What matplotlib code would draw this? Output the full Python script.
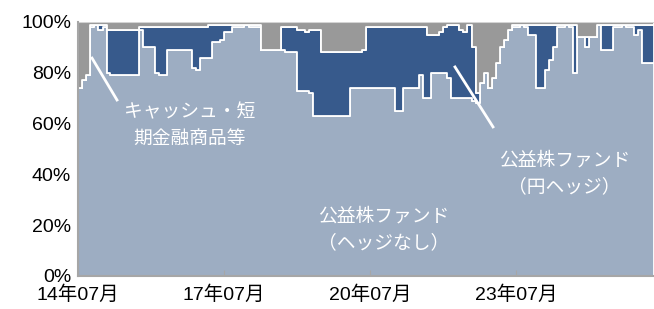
import numpy as np
import pandas as pd
import matplotlib
matplotlib.use("Agg")
import matplotlib.pyplot as plt

plt.rcParams['font.family'] = ['Liberation Sans', 'Noto Sans CJK JP']

# monthly allocation (%), 2014-07 .. 2026-04
start_month = '2014-07-01'
hedge_none = [74, 77, 79, 98, 99, 97, 98, 80, 79, 79,
              79, 79, 79, 79, 79, 97, 90, 90, 90, 80,
              79, 79, 89, 89, 89, 89, 89, 89, 82, 81,
              86, 86, 86, 92, 92, 93, 96, 96, 98, 98,
              98, 99, 98, 98, 98, 89, 89, 89, 89, 89,
              89, 88, 88, 88, 73, 73, 73, 72, 63, 63,
              63, 63, 63, 63, 63, 63, 63, 74, 74, 74,
              74, 74, 74, 74, 74, 74, 74, 74, 65, 65,
              74, 74, 74, 74, 79, 70, 70, 80, 80, 80,
              80, 78, 70, 70, 70, 70, 70, 69, 68, 76,
              80, 74, 78, 84, 90, 93, 97, 98, 98, 99,
              98, 95, 95, 74, 74, 81, 85, 90, 98, 98,
              99, 98, 80, 94, 94, 90, 94, 94, 99, 89,
              89, 89, 98, 98, 99, 98, 98, 95, 97, 84,
              84, 84]
yen_hedge = [0, 0, 0, 1, 0, 2, 1, 17, 18, 18,
             18, 18, 18, 18, 18, 1, 8, 8, 8, 18,
             19, 19, 9, 9, 9, 9, 9, 9, 16, 17,
             12, 12, 13, 7, 7, 6, 3, 3, 1, 1,
             1, 0, 1, 1, 1, 0, 0, 0, 0, 0,
             9, 10, 10, 10, 24, 24, 23, 25, 34, 34,
             25, 25, 25, 25, 25, 25, 25, 14, 14, 14,
             15, 24, 24, 24, 24, 24, 24, 24, 33, 33,
             24, 24, 24, 24, 19, 28, 25, 15, 15, 16,
             18, 21, 29, 29, 27, 26, 29, 21, 4, 0,
             0, 0, 0, 0, 0, 0, 0, 1, 1, 0,
             1, 4, 4, 25, 25, 18, 14, 9, 1, 1,
             0, 1, 19, 0, 0, 4, 0, 0, 0, 10,
             10, 10, 1, 1, 0, 1, 1, 4, 2, 15,
             15, 15]
cash = [26, 23, 21, 1, 1, 1, 1, 3, 3, 3,
        3, 3, 3, 3, 3, 2, 2, 2, 2, 2,
        2, 2, 2, 2, 2, 2, 2, 2, 2, 2,
        2, 2, 1, 1, 1, 1, 1, 1, 1, 1,
        1, 1, 1, 1, 1, 11, 11, 11, 11, 11,
        2, 2, 2, 2, 3, 3, 4, 3, 3, 3,
        12, 12, 12, 12, 12, 12, 12, 12, 12, 12,
        11, 2, 2, 2, 2, 2, 2, 2, 2, 2,
        2, 2, 2, 2, 2, 2, 5, 5, 5, 4,
        2, 1, 1, 1, 3, 4, 1, 10, 28, 24,
        20, 26, 22, 16, 10, 7, 3, 1, 1, 1,
        1, 1, 1, 1, 1, 1, 1, 1, 1, 1,
        1, 1, 1, 6, 6, 6, 6, 6, 1, 1,
        1, 1, 1, 1, 1, 1, 1, 1, 1, 1,
        1, 1]

tick_dates = ['2014-07-01', '2017-07-01', '2020-07-01', '2023-07-01']
tick_labels = ['14年07月', '17年07月', '20年07月', '23年07月']
ytick_vals = [0, 20, 40, 60, 80, 100]

col_none = '#9dadc2'
col_hedge = '#375a8c'
col_cash = '#999999'

# step edges: one extra month so the last value spans its month
dates = pd.date_range(start_month, periods=len(hedge_none) + 1, freq='MS')
a = np.append(hedge_none, hedge_none[-1])
b = np.append(yen_hedge, yen_hedge[-1])
c = np.append(cash, cash[-1])

fig = plt.figure(figsize=(6.54, 3.09), dpi=100)
ax = fig.add_axes([78 / 654, 33 / 309, 576 / 654, 254 / 309])

ax.stackplot(dates, a, b, c, colors=[col_none, col_hedge, col_cash],
             step='post', edgecolor='white', linewidth=1.3)
ax.axhline(100, color='#d4d4d4', linewidth=1.5, zorder=3)

ax.set_xlim(dates[0], dates[-1])
ax.set_ylim(0, 100)
ax.set_yticks(ytick_vals)
ax.set_yticklabels([f'{v}%' for v in ytick_vals], fontsize=14)
ax.set_xticks(pd.to_datetime(tick_dates))
ax.set_xticklabels(tick_labels, fontsize=14)
ax.tick_params(axis='y', length=0, pad=5)
ax.tick_params(axis='x', direction='in', length=4, color='#a6a6a6', pad=7)
for s in ['top', 'right']:
    ax.spines[s].set_visible(False)
for s in ['left', 'bottom']:
    ax.spines[s].set_color('#a6a6a6')
    ax.spines[s].set_linewidth(1.5)
    ax.spines[s].set_zorder(4)

# labels and leader lines
txt = dict(color='white', fontsize=13.5, ha='center', va='center',
           linespacing=1.35, family=['Noto Sans CJK JP'], transform=ax.transAxes)
ax.text(0.194, 0.594, 'キャッシュ・短\n期金融商品等', **txt)
ax.text(0.845, 0.405, '公益株ファンド\n（円ヘッジ）', **txt)
ax.text(0.530, 0.185, '公益株ファンド\n（ヘッジなし）', **txt)
ax.plot([0.0243, 0.0677], [0.858, 0.693], color='white', lw=2, transform=ax.transAxes)
ax.plot([0.6545, 0.7205], [0.823, 0.587], color='white', lw=2, transform=ax.transAxes)

fig.savefig('out.png', dpi=100)
